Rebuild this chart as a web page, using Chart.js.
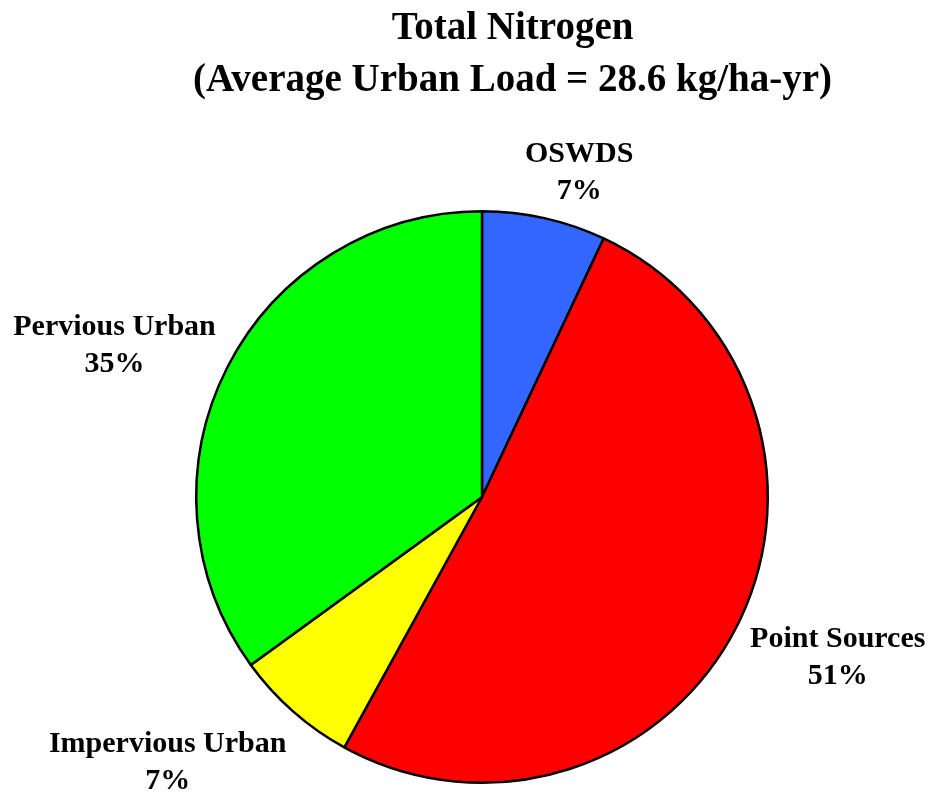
<!DOCTYPE html>
<html>
<head>
<meta charset="utf-8">
<script src="https://cdn.jsdelivr.net/npm/chart.js@4/dist/chart.umd.min.js"></script>
<style>
  html, body { margin: 0; padding: 0; background: #ffffff; }
  #wrap { width: 932px; height: 796px; position: relative; }
</style>
</head>
<body>
<div id="wrap"><canvas id="c" width="932" height="796"></canvas></div>
<script>
// ---- data ----
const categories = ["OSWDS", "Point Sources", "Impervious Urban", "Pervious Urban"];
const shares = [7, 51, 7, 35];
const sliceColors = ["#3366FF", "#FF0000", "#FFFF00", "#00FF00"];
const titleLines = ["Total Nitrogen", "(Average Urban Load = 28.6 kg/ha-yr)"];

// label anchor offsets relative to pie centre, in units of the pie radius (style)
const labelOffsets = [[0.34, -1.135], [1.245, 0.56], [-1.10, 0.93], [-1.286, -0.53]];

const fontFamily = "'Liberation Serif', 'Times New Roman', serif";

const labelPlugin = {
  id: 'sliceLabels',
  afterDatasetsDraw(chart) {
    const ctx = chart.ctx;
    const meta = chart.getDatasetMeta(0);
    ctx.save();
    ctx.fillStyle = '#000';
    ctx.font = "bold 30px " + fontFamily;
    ctx.textAlign = 'center';
    ctx.textBaseline = 'middle';
    meta.data.forEach((arc, i) => {
      const r = arc.outerRadius;
      const x = arc.x + labelOffsets[i][0] * r;
      const y = arc.y + labelOffsets[i][1] * r;
      ctx.fillText(categories[i], x, y - 18);
      ctx.fillText(shares[i] + '%', x, y + 19);
    });
    ctx.restore();
  }
};

const titlePlugin = {
  id: 'twoLineTitle',
  afterDraw(chart) {
    const ctx = chart.ctx;
    ctx.save();
    ctx.fillStyle = '#000';
    ctx.font = "bold 39px " + fontFamily;
    ctx.textAlign = 'center';
    ctx.textBaseline = 'middle';
    const cx = chart.width * 0.55;
    ctx.fillText(titleLines[0], cx, 29);
    ctx.fillText(titleLines[1], cx, 81);
    ctx.restore();
  }
};

new Chart(document.getElementById('c'), {
  type: 'pie',
  data: {
    labels: categories,
    datasets: [{
      data: shares,
      backgroundColor: sliceColors,
      borderColor: '#000000',
      borderWidth: 2.5,
      hoverOffset: 0
    }]
  },
  options: {
    responsive: false,
    animation: false,
    devicePixelRatio: 1,
    layout: { padding: { top: 210, left: 195, right: 163, bottom: 12 } },
    plugins: {
      legend: { display: false },
      title: { display: false },
      tooltip: { enabled: false }
    }
  },
  plugins: [labelPlugin, titlePlugin]
});
</script>
</body>
</html>
